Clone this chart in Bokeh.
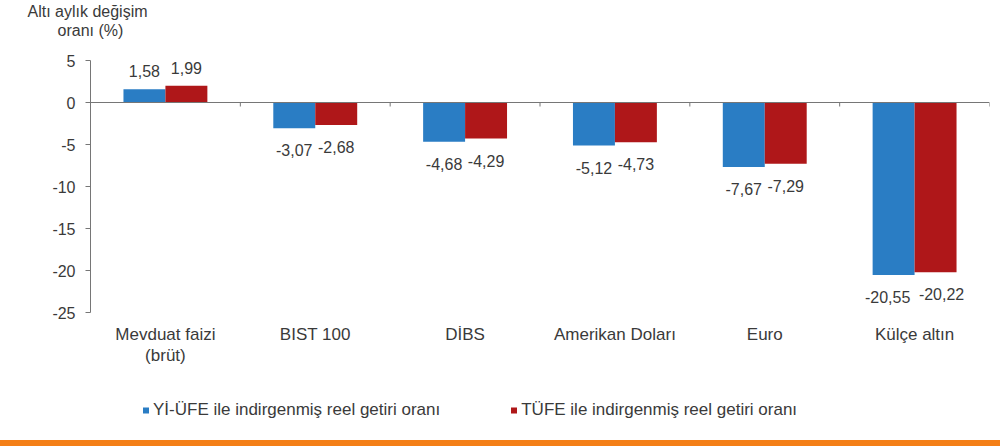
import numpy as np

from bokeh.plotting import figure
from bokeh.models import (Range1d, FixedTicker, Span, Title, Legend, LegendItem,
                          ColumnDataSource, NumeralTickFormatter, InlineStyleSheet)
from bokeh.core.properties import value
from bokeh.embed import file_html
from bokeh.resources import INLINE

# veri
categories = ["Mevduat faizi\n(brüt)", "BIST 100", "DİBS", "Amerikan Doları", "Euro", "Külçe altın"]
yi_ufe = [1.58, -3.07, -4.68, -5.12, -7.67, -20.55]
tufe = [1.99, -2.68, -4.29, -4.73, -7.29, -20.22]
series_names = ["Yİ-ÜFE ile indirgenmiş reel getiri oranı", "TÜFE ile indirgenmiş reel getiri oranı"]
y_ticks = [5, 0, -5, -10, -15, -20, -25]
y_title = ["Altı aylık değişim", "oranı (%)"]

BLUE = "#2A7DC4"
RED = "#AF1719"
ORANGE = "#F47F17"
AXIS = "#767676"
TXT = "#3a3a3a"
FONT = value("Liberation Sans")

W, H = 1000, 446
STRIP = 6                 # turuncu alt şerit
FRAME_TOP = 38            # two title lines sit above this
ROW_OF_MAX = 60           # pixel row where the value 5 sits
PX_PER_UNIT = 8.4
Y_MAX = max(y_ticks) + (ROW_OF_MAX - FRAME_TOP) / PX_PER_UNIT
Y_MIN = max(y_ticks) - (H - STRIP - ROW_OF_MAX) / PX_PER_UNIT


def fmt(v):
    return f"{v:.2f}".replace(".", ",")


n = len(categories)
centers = np.arange(n) + 0.5
bar_w = 0.28

strip_css = InlineStyleSheet(css=f"""
:host {{ position: relative; }}
:host::after {{
  content: ""; position: absolute; left: 0; bottom: 0;
  width: 100%; height: {STRIP}px; background-color: {ORANGE};
}}
""")

p = figure(width=W, height=H, x_range=Range1d(0, n), y_range=Range1d(Y_MIN, Y_MAX),
           output_backend="svg", toolbar_location=None, x_axis_location=None,
           title_location=None, stylesheets=[strip_css],
           min_border_left=90, min_border_right=11, min_border_top=FRAME_TOP,
           min_border_bottom=STRIP)
p.outline_line_color = None
p.xgrid.visible = False
p.ygrid.visible = False

# y ekseni
ax = p.yaxis[0]
ax.bounds = (min(y_ticks), max(y_ticks))
ax.ticker = FixedTicker(ticks=y_ticks)
ax.formatter = NumeralTickFormatter(format="0")
ax.minor_tick_line_color = None
ax.major_tick_in = 0
ax.major_tick_out = 5
ax.major_label_standoff = 10
ax.axis_line_color = AXIS
ax.major_tick_line_color = AXIS
ax.major_label_text_font = "Liberation Sans"
ax.major_label_text_font_size = "16px"
ax.major_label_text_color = TXT

# eksen başlığı (iki satır)
t2 = Title(text=y_title[1], align="left", offset=-33, standoff=0,
           text_font="Liberation Sans", text_font_size="16px",
           text_font_style="normal", text_color=TXT)
t1 = Title(text=y_title[0], align="left", offset=-63, standoff=0,
           text_font="Liberation Sans", text_font_size="16px",
           text_font_style="normal", text_color=TXT)
p.add_layout(t2, "above")
p.add_layout(t1, "above")

# sıfır çizgisi ve kategori sınır işaretleri
p.add_layout(Span(location=0, dimension="width", line_color=AXIS, line_width=1))
p.ray(x=np.arange(1, n + 1), y=0, length=4, length_units="screen", angle=-np.pi / 2,
      line_color=AXIS, line_width=1)

legend_items = []
for vals, dx, side, color, name in [(yi_ufe, -bar_w / 2, -1, BLUE, series_names[0]),
                                    (tufe, bar_w / 2, 1, RED, series_names[1])]:
    labels = [fmt(v) for v in vals]
    src = ColumnDataSource(dict(
        x=centers + dx,
        top=vals,
        label=labels,
        # uzun etiketleri birbirinden biraz uzaklaştır (Excel gibi)
        xoff=[side * 6 * max(len(s) - 5, 0) for s in labels],
        yoff=[-18 if v > 0 else 22 for v in vals],
    ))
    p.vbar(x="x", top="top", bottom=0, width=bar_w, source=src,
           fill_color=color, line_color=None)
    p.text(x="x", y="top", text="label", x_offset="xoff", y_offset="yoff", source=src,
           text_align="center", text_baseline="middle", text_font=FONT,
           text_font_size="16px", text_color=TXT)
    # lejant için küçük kare (grafikte gizli)
    mark = p.scatter(x="x", y="top", source=src, marker="square", size=6,
                     fill_color=color, line_color=None, visible=False)
    legend_items.append(LegendItem(label=name, renderers=[mark]))

# kategori etiketleri
p.text(x=centers, y=min(y_ticks), text=categories, y_offset=12,
       text_align="center", text_baseline="top", text_font=FONT,
       text_font_size="17px", text_color=TXT, text_line_height=1.15)

legend = Legend(items=legend_items, orientation="horizontal", location=(48, 20),
                glyph_width=15, glyph_height=20, label_standoff=0, spacing=66,
                padding=0, margin=0, border_line_color=None, background_fill_alpha=0,
                label_text_font="Liberation Sans", label_text_font_size="17px",
                label_text_color=TXT)
p.add_layout(legend)

open("out.html", "w").write(file_html(p, INLINE))
